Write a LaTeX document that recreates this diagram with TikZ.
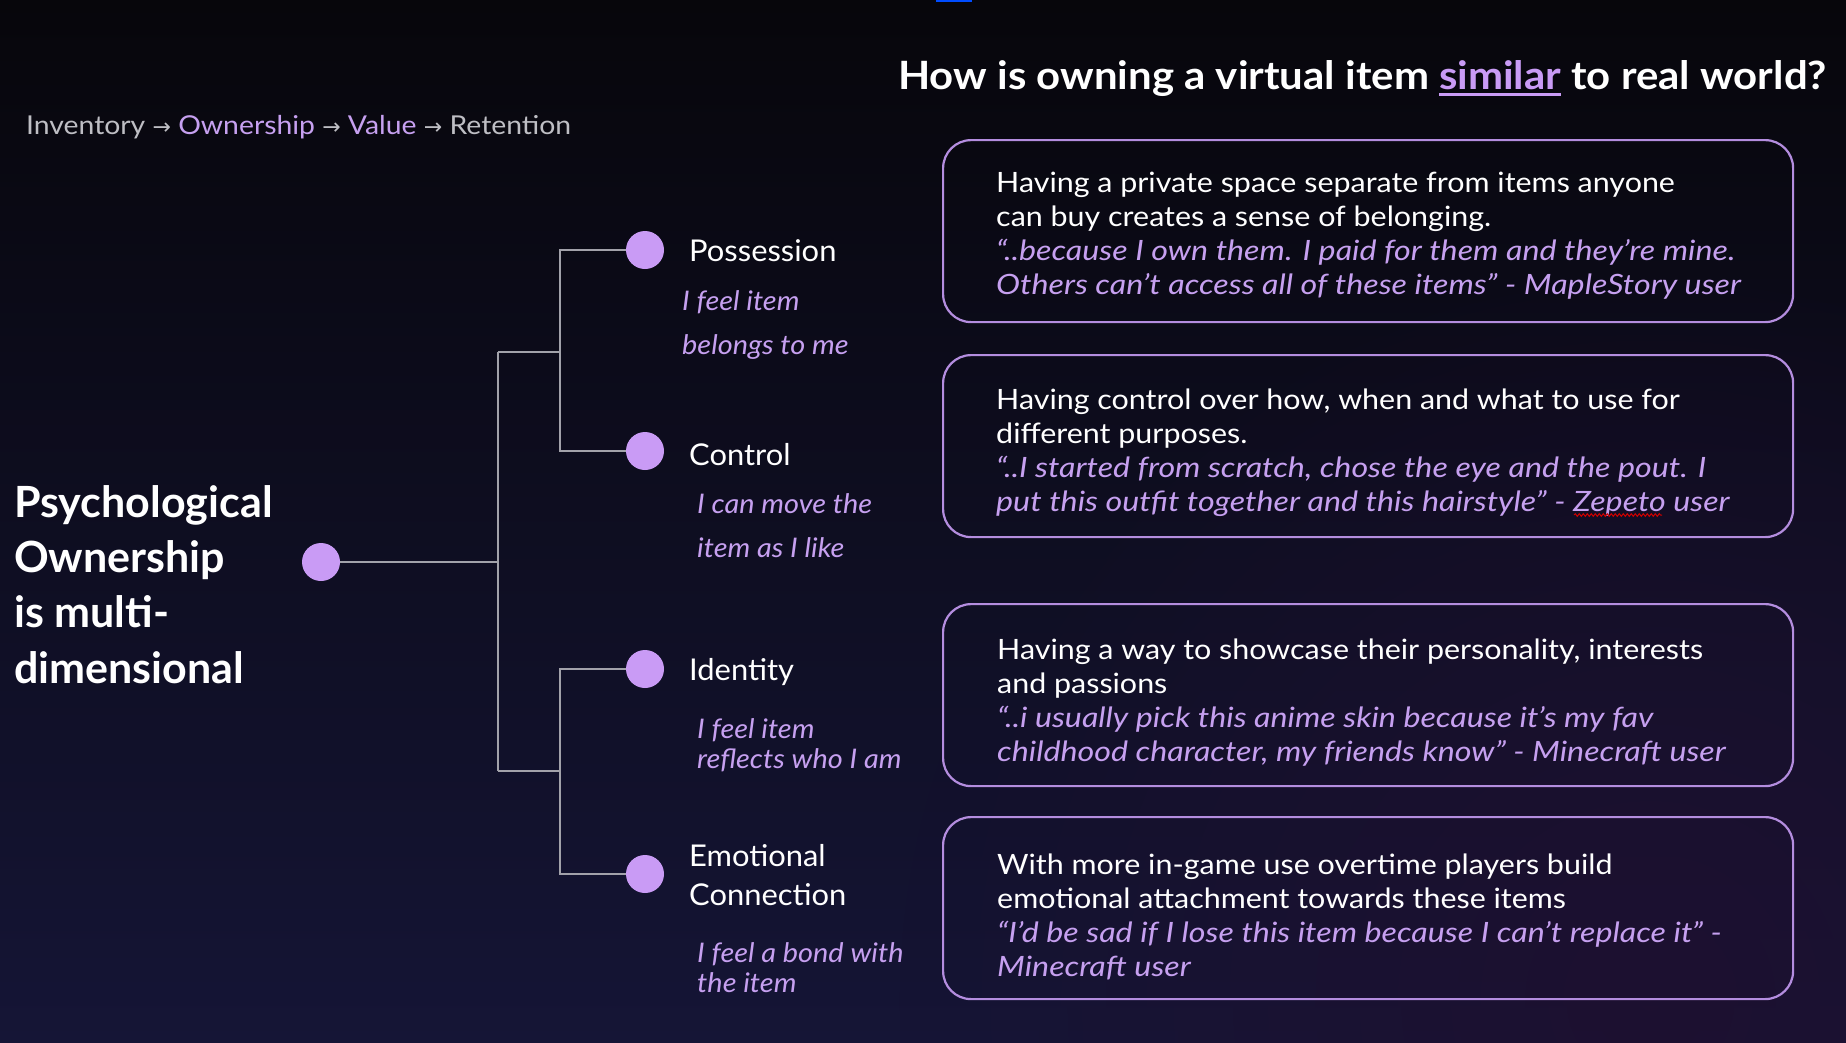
\documentclass[tikz,border=0pt]{standalone}
\usepackage{fontspec}
\setmainfont{Lato}
\newfontfamily\symfont{DejaVu Sans}
\newfontfamily\titlefont[FakeStretch=1.075]{Lato}
\newfontfamily\headfont[FakeStretch=1.09]{Lato}
\newfontfamily\labelfont[FakeStretch=1.03]{Lato}
\newfontfamily\subfont[FakeStretch=1.07]{Lato}
\newfontfamily\boxfont[FakeStretch=1.087]{Lato}
\newfontfamily\boxital[FakeStretch=1.15]{Lato}
\usetikzlibrary{decorations.pathmorphing,fadings}
\definecolor{lav}{HTML}{C99BF5}
\definecolor{lavtext}{HTML}{C6A0F0}
\definecolor{boxborder}{HTML}{B48DDF}
\definecolor{linegray}{HTML}{A2A2AA}
\definecolor{headgray}{HTML}{BEBEC4}
\definecolor{bgT}{HTML}{07060B}
\definecolor{bgB}{HTML}{151536}
\definecolor{bgP}{HTML}{1E1030}
\tikzfading[name=glowfade, inner color=transparent!0, outer color=transparent!100]
\newcommand\myul[1]{\setbox0\hbox{#1}\rlap{\rule[-7pt]{\wd0}{3pt}}\box0}
\newcommand\quoteline[1]{{\color{lavtext}\boxital\itshape #1}}
\newcommand\arr{{\symfont\fontsize{22}{24}\selectfont→}}
\begin{document}
\begin{tikzpicture}[x=1pt,y=-1pt,
  dot/.style={circle, fill=lav, minimum size=38pt, inner sep=0pt},
  conn/.style={draw=linegray, line width=2pt},
  qbox/.style={draw=boxborder, line width=2.2pt, rounded corners=28pt, minimum width=850pt, minimum height=182pt, anchor=north west, inner sep=0pt},
  boxtext/.style={text=white, font=\boxfont\fontsize{28}{34}\selectfont, align=left, anchor=north west, inner sep=0pt},
  dimlabel/.style={text=white, font=\labelfont\fontsize{30}{39}\selectfont, align=left, anchor=north west, inner sep=0pt},
  dimsub/.style={text=lavtext, font=\subfont\fontsize{27}{44}\selectfont\itshape, align=left, anchor=north west, inner sep=0pt},
]
\useasboundingbox (0,0) rectangle (1846,1042);
\shade[top color=bgT, bottom color=bgB] (0,0) rectangle (1846,1042);
\fill[bgP, path fading=glowfade, opacity=0.9] (1650,1000) circle (750pt);
\fill[blue!70!cyan] (936,0) rectangle (972,2);

% header
\node[anchor=base west, inner sep=0pt, font=\headfont\fontsize{26}{30}\selectfont] (head) at (26,134)
  {\color{headgray}Inventory \arr{} \color{lavtext}Ownership \color{headgray}\arr{} \color{lavtext}Value \color{headgray}\arr{} Retention};

% title
\node[anchor=base west, inner sep=0pt, text=white, font=\titlefont\fontsize{39}{46}\selectfont\bfseries] (title) at (898,89)
  {How is owning a virtual item \textcolor{lav}{\myul{similar}} to real world?};

% left title
\node[anchor=north west, inner sep=0pt, text=white, align=left, font=\fontsize{43}{55.3}\selectfont\bfseries] (pso) at (14,485)
  {Psychological\\Ownership\\is multi-\\dimensional};

% dots
\node[dot] (root) at (321,562) {};
\node[dot] (pos) at (645,250) {};
\node[dot] (con) at (645,451) {};
\node[dot] (ide) at (645,669) {};
\node[dot] (emo) at (645,874) {};

\coordinate (jroot) at (498,562);
\coordinate (jtop) at (498,352);
\coordinate (jbot) at (498,771);
\coordinate (ut) at (560,352);
\coordinate (lt) at (560,771);

\draw[conn] (root.east) -- (jroot);
\draw[conn] (jtop) -- (jbot);
\draw[conn] (jtop) -- (ut);
\draw[conn] (jbot) -- (lt);
\draw[conn] (pos.west) -| (ut) |- (con.west);
\draw[conn] (ide.west) -| (lt) |- (emo.west);

% dimension labels
\node[dimlabel] (posl) at (689,239) {Possession};
\node[dimsub] (poss) at (682,290) {I feel item\\belongs to me};
\node[dimlabel] (conl) at (689,443) {Control};
\node[dimsub] (cons) at (697,493) {I can move the\\item as I like};
\node[dimlabel] (idel) at (689,658) {Identity};
\node[dimsub, font=\subfont\fontsize{27}{30}\selectfont\itshape] (ides) at (697,718) {I feel item\\reflects who I am};
\node[dimlabel] (emol) at (689,844) {Emotional\\Connection};
\node[dimsub, font=\subfont\fontsize{27}{30}\selectfont\itshape] (emos) at (697,942) {I feel a bond with\\the item};

% boxes
\node[qbox] (b1) at (942,139) {};
\node[qbox] (b2) at (942,354) {};
\node[qbox] (b3) at (942,603) {};
\node[qbox] (b4) at (942,816) {};

\node[boxtext] (t1) at (996,172) {Having a private space separate from items anyone\\can buy creates a sense of belonging.\\
  \quoteline{“..because I own them. I paid for them and they’re mine.}\\
  \quoteline{Others can’t access all of these items” - MapleStory user}};
\node[boxtext] (t2) at (996,389) {Having control over how, when and what to use for\\different purposes.\\
  \quoteline{“..I started from scratch, chose the eye and the pout. I}\\
  \quoteline{put this outfit together and this hairstyle” - Zepeto user}};
\node[boxtext] (t3) at (997,639) {Having a way to showcase their personality, interests\\and passions\\
  \quoteline{“..i usually pick this anime skin because it’s my fav}\\
  \quoteline{childhood character, my friends know” - Minecraft user}};
\node[boxtext] (t4) at (997,854) {With more in-game use overtime players build\\emotional attachment towards these items\\
  \quoteline{“I’d be sad if I lose this item because I can’t replace it” -}\\
  \quoteline{Minecraft user}};

\draw[red!80!black, line width=1pt, decorate, decoration={snake, amplitude=1.3pt, segment length=4pt}] (1574,515) -- (1662,515);
\end{tikzpicture}
\end{document}
